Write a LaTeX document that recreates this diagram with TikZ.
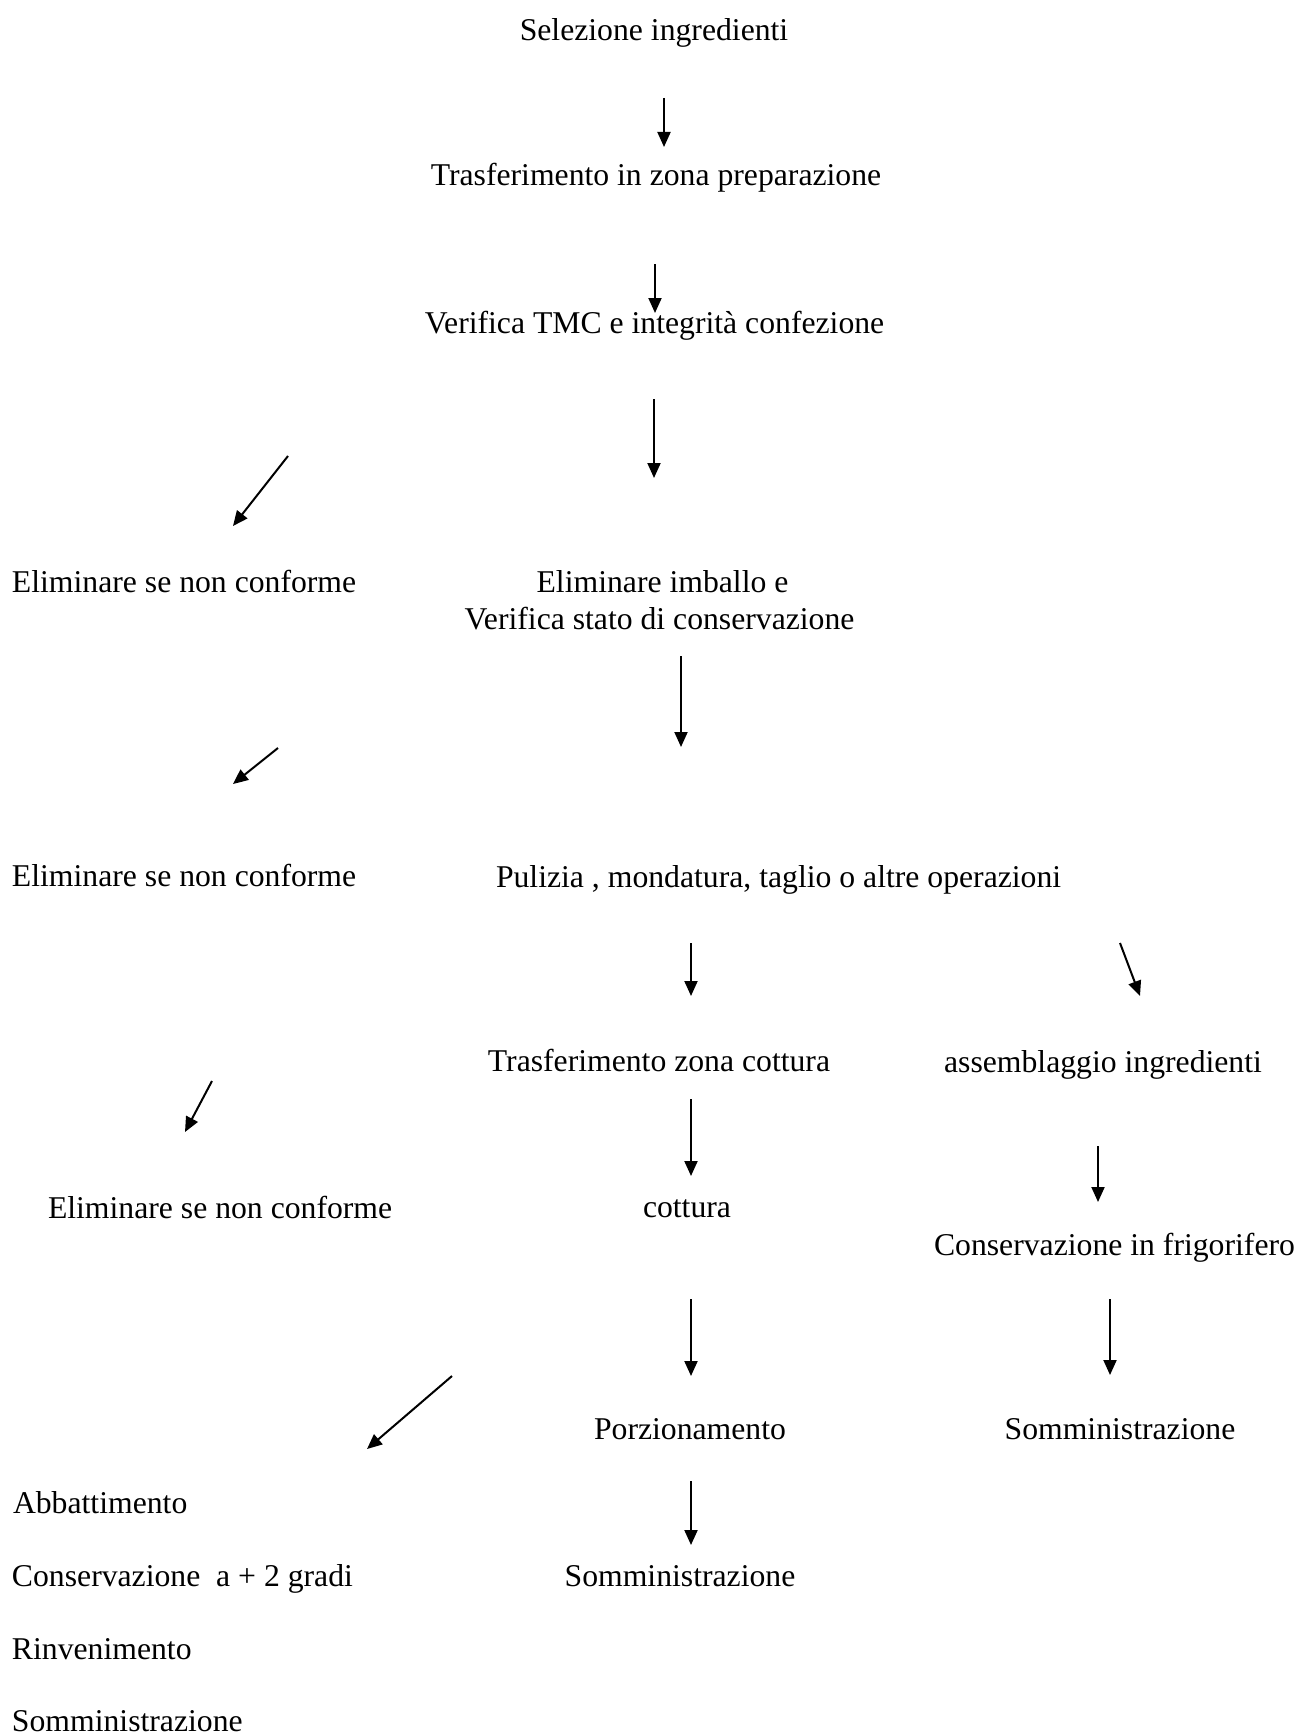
\documentclass[tikz,border=0pt]{standalone}
\usepackage{fontspec}
\setmainfont{Liberation Serif}
\usetikzlibrary{arrows.meta}
\begin{document}
\begin{tikzpicture}[x=1pt,y=-1pt,
  lbl/.style={inner sep=0pt,outer sep=0pt,anchor=base,font=\fontsize{31.7}{37}\selectfont},
  lblw/.style={lbl,anchor=base west},
  arr/.style={line width=2pt,-{Triangle[length=15pt,width=13pt]}}]
\fill[white] (0,0) rectangle (1301,1736);
\useasboundingbox (0,0) rectangle (1301,1736);

% text nodes
\node[lbl] (sel) at (654,41) {Selezione ingredienti};
\node[lbl] (tras) at (656,186) {Trasferimento in zona preparazione};
\node[lbl] (ver) at (654.5,333) {Verifica TMC e integrità confezione};
\node[lblw] (elimA) at (12,592) {Eliminare se non conforme};
\node[lbl] (imbA) at (662.5,592) {Eliminare imballo e};
\node[lbl] (imbB) at (659.5,629) {Verifica stato di conservazione};
\node[lblw] (elimB) at (12,886) {Eliminare se non conforme};
\node[lblw] (pul) at (496,887) {Pulizia , mondatura, taglio o altre operazioni};
\node[lbl] (tzc) at (659,1071) {Trasferimento zona cottura};
\node[lbl] (ass) at (1103,1072) {assemblaggio ingredienti};
\node[lblw] (elimC) at (48,1218) {Eliminare se non conforme};
\node[lbl] (cot) at (687,1217) {cottura};
\node[lbl] (cfr) at (1114.5,1255) {Conservazione in frigorifero};
\node[lbl] (porz) at (690,1439) {Porzionamento};
\node[lbl] (sommA) at (1120,1439) {Somministrazione};
\node[lblw] (abb) at (13,1513) {Abbattimento};
\node[lblw] (cons) at (12,1586) {Conservazione\ \ a + 2 gradi};
\node[lbl] (sommB) at (680,1586) {Somministrazione};
\node[lblw] (rinv) at (12,1659) {Rinvenimento};
\node[lblw] (sommC) at (12,1731) {Somministrazione};

% arrow end points
\coordinate (a1s) at (664,98);   \coordinate (a1e) at (664,147);
\coordinate (a2s) at (655,264);  \coordinate (a2e) at (655,313);
\coordinate (a3s) at (654,399);  \coordinate (a3e) at (654,478);
\coordinate (d1s) at (288,456);  \coordinate (d1e) at (233,526);
\coordinate (a4s) at (681,656);  \coordinate (a4e) at (681,747);
\coordinate (d2s) at (278,748);  \coordinate (d2e) at (233,784);
\coordinate (a5s) at (691,943);  \coordinate (a5e) at (691,996);
\coordinate (a6s) at (1120,943); \coordinate (a6e) at (1140,996);
\coordinate (d3s) at (212,1081); \coordinate (d3e) at (185,1132);
\coordinate (a7s) at (691,1099); \coordinate (a7e) at (691,1176);
\coordinate (a8s) at (1098,1146);\coordinate (a8e) at (1098,1202);
\coordinate (a9s) at (691,1299); \coordinate (a9e) at (691,1376);
\coordinate (a10s) at (1110,1299);\coordinate (a10e) at (1110,1375);
\coordinate (d4s) at (452,1376); \coordinate (d4e) at (367,1449);
\coordinate (a11s) at (691,1481);\coordinate (a11e) at (691,1545);

\foreach \s/\e in {a1s/a1e,a2s/a2e,a3s/a3e,d1s/d1e,a4s/a4e,d2s/d2e,a5s/a5e,a6s/a6e,d3s/d3e,a7s/a7e,a8s/a8e,a9s/a9e,a10s/a10e,d4s/d4e,a11s/a11e}
  \draw[arr] (\s) -- (\e);
\end{tikzpicture}
\end{document}
